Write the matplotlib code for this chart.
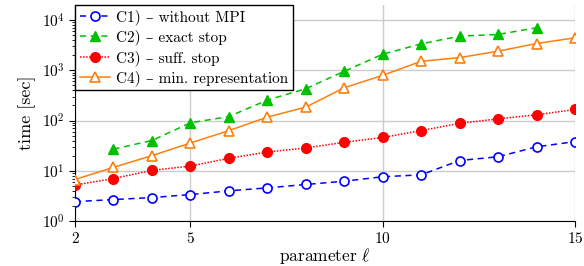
#!/usr/bin/env python3
import matplotlib
matplotlib.use("Agg")
import matplotlib.pyplot as plt

plt.rcParams["font.family"] = ["cmr10", "DejaVu Serif"]
plt.rcParams["mathtext.fontset"] = "cm"
plt.rcParams["axes.formatter.use_mathtext"] = True
plt.rcParams["axes.unicode_minus"] = False

ell = [2, 3, 4, 5, 6, 7, 8, 9, 10, 11, 12, 13, 14, 15]
ell_c2 = [3, 4, 5, 6, 7, 8, 9, 10, 11, 12, 13, 14]

c1_without_mpi = [2.43, 2.67, 2.93, 3.36, 3.98, 4.57, 5.33, 6.2, 7.6, 8.3, 16, 19, 30, 38]
c2_exact_stop = [27, 40, 90, 120, 255, 430, 955, 2090, 3360, 4790, 5170, 7030]
c3_suff_stop = [5.2, 7.0, 10.2, 12.4, 17.7, 23.6, 28.4, 36.9, 46, 63, 88, 108, 130, 166]
c4_min_repr = [6.7, 11.7, 20, 35.7, 63, 117, 185, 450, 794, 1510, 1790, 2400, 3415, 4430]

labels = [
    "C1) – without MPI",
    "C2) – exact stop",
    "C3) – suff. stop",
    "C4) – min. representation",
]

fig = plt.figure(figsize=(5.84, 2.66), dpi=100)
ax = fig.add_axes([75 / 584, 1 - 221 / 266, 500 / 584, 216 / 266])

ax.plot(ell, c1_without_mpi, color="#0000ff", ls=(0, (4, 3)), lw=1.1,
        marker="o", ms=6.5, mfc="white", mew=1.2, label=labels[0], zorder=3)
ax.plot(ell_c2, c2_exact_stop, color="#00c000", ls=(0, (4, 3)), lw=1.1,
        marker="^", ms=7.5, mfc="#00c000", mew=1.0, label=labels[1], zorder=3)
ax.plot(ell, c3_suff_stop, color="#ff0000", ls=(0, (1, 1)), lw=1.1,
        marker="o", ms=7, mfc="#ff0000", mew=1.0, label=labels[2], zorder=3)
ax.plot(ell, c4_min_repr, color="#ff7f0e", ls="-", lw=1.1,
        marker="^", ms=7.5, mfc="white", mew=1.2, label=labels[3], zorder=3)

ax.set_yscale("log")
ax.set_xlim(2, 15)
ax.set_ylim(1, 10 ** 4.3)
ax.set_xticks([2, 5, 10, 15])
ax.set_yticks([1, 10, 100, 1000, 10000])
ax.grid(True, which="major", color="#cccccc", lw=1.0, zorder=0)
ax.set_axisbelow(True)

for side in ["top", "right"]:
    ax.spines[side].set_visible(False)
ax.tick_params(axis="both", which="major", labelsize=11, direction="out", length=4, width=0.8)
ax.tick_params(axis="y", which="minor", direction="out", length=2.5, width=0.6)
ax.tick_params(axis="x", which="minor", bottom=False)

ax.set_xlabel(r"parameter $\ell$", fontsize=12.5, labelpad=0)
ax.set_ylabel("time [sec]", fontsize=13, labelpad=4)

leg = ax.legend(loc="upper left", fontsize=11, frameon=True, fancybox=False,
                edgecolor="black", framealpha=1.0, borderaxespad=0.0,
                handlelength=2.0, handletextpad=0.4, labelspacing=0.3,
                borderpad=0.3)
leg.get_frame().set_linewidth(1.0)

fig.savefig("out.png", dpi=100)
